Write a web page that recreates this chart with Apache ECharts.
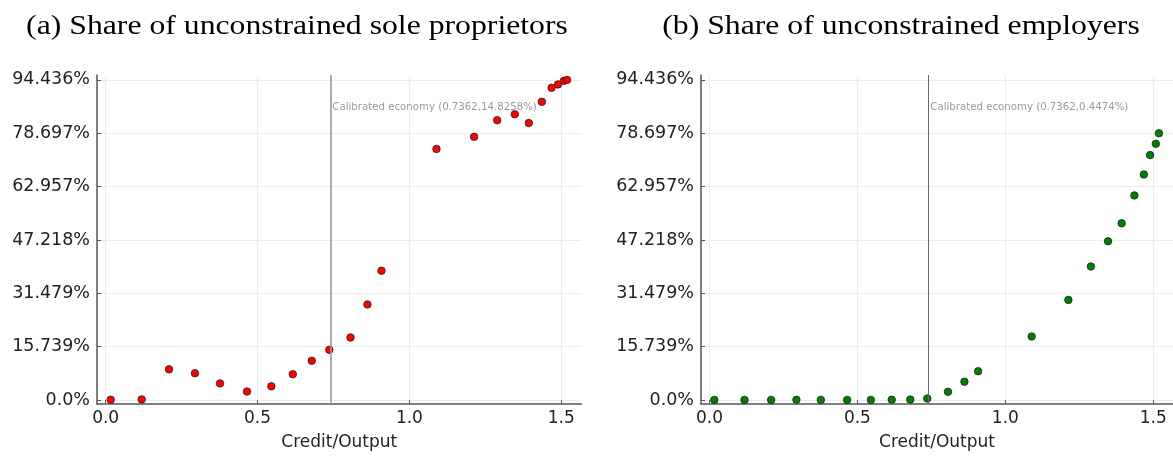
<!DOCTYPE html>
<html>
<head>
<meta charset="utf-8">
<script src="https://cdn.jsdelivr.net/npm/echarts@6/dist/echarts.min.js"></script>
<style>
html,body{margin:0;padding:0;background:#fff;}
#c{width:1173px;height:456px;}
</style>
</head>
<body>
<div id="c"></div>
<script>
// Credit/Output values (shared by both panels)
const creditOutput = [0.0165, 0.1186, 0.2085, 0.294, 0.3765, 0.4654, 0.5455, 0.616, 0.6785, 0.7362, 0.806, 0.8617, 0.908, 1.089, 1.213, 1.289, 1.347, 1.393, 1.436, 1.468, 1.489, 1.5086, 1.519];
// (a) share of unconstrained sole proprietors, %
const soleProprietors = [0.1, 0.2, 9.07, 7.91, 4.92, 2.51, 4.06, 7.63, 11.6, 14.8258, 18.45, 28.2, 38.15, 74.07, 77.64, 82.56, 84.3, 81.7, 87.98, 92.1, 93.1, 94.15, 94.436];
// (b) share of unconstrained employers, %
const employers = [0.05, 0.05, 0.05, 0.1, 0.05, 0.05, 0.05, 0.1, 0.15, 0.4474, 2.43, 5.4, 8.5, 18.74, 29.55, 39.4, 46.84, 52.14, 60.37, 66.54, 72.25, 75.6, 78.7];

const yTickValues = [0, 15.7393, 31.4787, 47.218, 62.9573, 78.6967, 94.436];
const yTickLabels = ["0.0%", "15.739%", "31.479%", "47.218%", "62.957%", "78.697%", "94.436%"];
const xTickValues = [0, 0.5, 1.0, 1.5];
const xTickLabels = ["0.0", "0.5", "1.0", "1.5"];

const calibratedX = 0.7362;
const annotationY = 86.4;
const annotations = ["Calibrated economy (0.7362,14.8258%)", "Calibrated economy (0.7362,0.4474%)"];
const titles = ["(a) Share of unconstrained sole proprietors", "(b) Share of unconstrained employers"];

const FONT = 'DejaVu Sans';
function labelFor(values, labels) {
  return function (v) {
    let best = 0, bd = Infinity;
    values.forEach((t, i) => { const d = Math.abs(t - v); if (d < bd) { bd = d; best = i; } });
    return labels[best];
  };
}
function xAxis(gi) {
  return {
    type: 'value', gridIndex: gi, min: -0.0285, max: 1.5665,
    name: 'Credit/Output', nameLocation: 'middle', nameGap: 30,
    nameTextStyle: { fontFamily: FONT, fontSize: 17, color: '#222' },
    axisLine: { show: true, onZero: false, lineStyle: { color: '#555', width: 1.5 } },
    axisTick: { show: true, inside: true, length: 4, customValues: xTickValues, lineStyle: { color: '#555' } },
    axisLabel: { customValues: xTickValues, formatter: labelFor(xTickValues, xTickLabels), fontFamily: FONT, fontSize: 17, color: '#222', margin: 6 },
    splitLine: { show: true, lineStyle: { color: '#ececec', width: 1 } }
  };
}
function yAxis(gi) {
  return {
    type: 'value', gridIndex: gi, min: -1.16, max: 95.88,
    axisLine: { show: true, onZero: false, lineStyle: { color: '#555', width: 1.5 } },
    axisTick: { show: true, inside: true, length: 4, customValues: yTickValues, lineStyle: { color: '#555' } },
    axisLabel: { customValues: yTickValues, formatter: labelFor(yTickValues, yTickLabels), fontFamily: FONT, fontSize: 17.5, color: '#222', margin: 7 },
    splitLine: { show: true, lineStyle: { color: '#ececec', width: 1 } }
  };
}
function series(idx, data, color, lineColor, lineWidth) {
  return {
    type: 'scatter', xAxisIndex: idx, yAxisIndex: idx,
    data: creditOutput.map((x, i) => [x, data[i]]),
    symbol: 'circle', symbolSize: 7.5,
    itemStyle: { color: color, borderColor: '#222', borderWidth: 0.8, opacity: 1 },
    markLine: {
      silent: true, symbol: 'none', animation: false,
      label: { show: false },
      lineStyle: { color: lineColor, width: lineWidth, type: 'solid' },
      data: [{ xAxis: calibratedX }]
    },
    markPoint: {
      silent: true, symbol: 'circle', symbolSize: 0, animation: false,
      data: [{ coord: [calibratedX, annotationY] }],
      label: { show: true, position: 'right', distance: 3, formatter: annotations[idx], fontFamily: FONT, fontSize: 10.2, color: '#9a9a9a' }
    }
  };
}
function titleText(text, cx, sx) {
  return {
    type: 'text', x: cx, y: 27, scaleX: sx, scaleY: 1, silent: true,
    style: { text: text, x: 0, y: 0, align: 'center', verticalAlign: 'middle', font: '27px "Liberation Serif"', fill: '#000' }
  };
}

const chart = echarts.init(document.getElementById('c'), null, { renderer: 'canvas' });
chart.setOption({
  animation: false,
  backgroundColor: '#fff',
  graphic: [titleText(titles[0], 297, 1.175), titleText(titles[1], 901, 1.175)],
  grid: [
    { left: 97, right: 591.5, top: 75, bottom: 46, containLabel: false },
    { left: 701, right: -12.5, top: 75, bottom: 46, containLabel: false }
  ],
  xAxis: [xAxis(0), xAxis(1)],
  yAxis: [yAxis(0), yAxis(1)],
  series: [
    series(0, soleProprietors, '#ff0000', '#999', 1.6),
    series(1, employers, '#008000', '#666', 1)
  ]
});
</script>
</body>
</html>
